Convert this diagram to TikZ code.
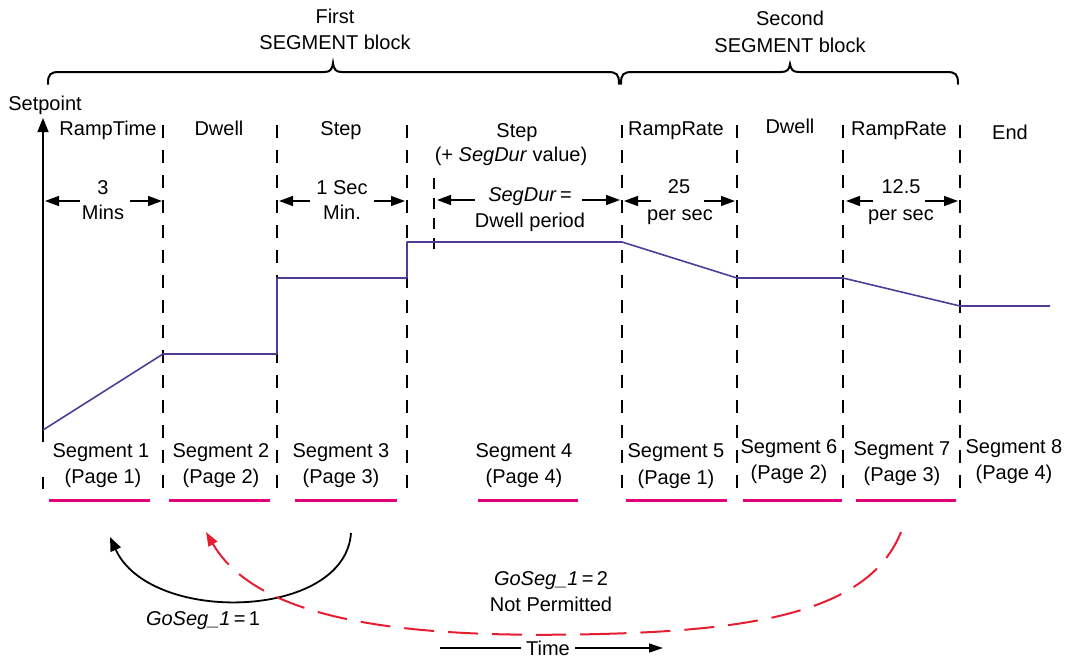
\documentclass[tikz,border=0pt]{standalone}
\usepackage{fontspec}
\setmainfont{Liberation Sans}
\usetikzlibrary{arrows.meta}
\definecolor{profc}{RGB}{80,60,150}
\definecolor{magc}{RGB}{226,0,122}
\definecolor{redc}{RGB}{230,30,50}
\begin{document}
\begin{tikzpicture}[x=1pt,y=-1pt,
  font=\fontsize{20}{24}\selectfont,
  lbl/.style={anchor=base, inner sep=0pt},
  vdash/.style={line width=2pt, dash pattern=on 13pt off 12pt},
  profline/.style={line width=1.6pt, profc, line join=round},
  dimarrow/.style={line width=1.5pt, -{Triangle[length=14pt,width=10pt]}},
  segline/.style={line width=3pt, magc},
  bracepath/.style={line width=2pt, line cap=round},
  tip/.style={-{Triangle[length=14pt,width=11pt]}}
]
\useasboundingbox (0,0) rectangle (1074,659);

% ---- braces ----
\draw[bracepath] (48,84) .. controls (48,74) and (50,72) .. (60,72) -- (324,72)
  .. controls (330,72) and (332,70) .. (333,63) .. controls (334,70) and (336,72) .. (342,72)
  -- (607,72) .. controls (617,72) and (619,74) .. (619,84);
\draw[bracepath] (621,84) .. controls (621,74) and (623,72) .. (633,72) -- (781,72)
  .. controls (787,72) and (789,70) .. (790,64) .. controls (791,70) and (793,72) .. (799,72)
  -- (946,72) .. controls (956,72) and (958,74) .. (958,84);
\node[lbl] (first) at (335,23) {First};
\node[lbl] (firstb) at (335,49) {SEGMENT block};
\node[lbl] (second) at (790,25) {Second};
\node[lbl] (secondb) at (790,52) {SEGMENT block};

% ---- axis ----
\node[lbl] (setpoint) at (45,110) {Setpoint};
\coordinate (ax0) at (43,442);
\coordinate (ax1) at (43,118);
\draw[line width=1.5pt, tip] (ax0) -- (ax1);
\draw[line width=2pt] (43,477) -- (43,489);

% ---- dashed separators ----
\foreach \xx in {163,277,407,622,737,843,960}
  \draw[vdash] (\xx,125) -- (\xx,490);
\draw[line width=2pt, dash pattern=on 11pt off 9pt] (434,178) -- (434,258);

% ---- setpoint profile ----
\draw[profline] (43,430) -- (163,354) -- (277,354) -- (277,278) -- (407,278)
  -- (407,242) -- (622,242) -- (737,278) -- (843,278) -- (960,306) -- (1050,306);

% ---- top labels ----
\node[lbl] (l1) at (108,135) {RampTime};
\node[lbl] (l2) at (219,135) {Dwell};
\node[lbl] (l3) at (341,135) {Step};
\node[lbl] (l4) at (517,137) {Step};
\node[lbl] (l4b) at (511,161) {(+ \textit{SegDur} value)};
\node[lbl] (l5) at (676,135) {RampRate};
\node[lbl] (l6) at (790,133) {Dwell};
\node[lbl] (l7) at (899,135) {RampRate};
\node[lbl] (l8) at (1010,139) {End};

% ---- dimension labels and arrows ----
\node[lbl] (d1a) at (103,194) {3};
\node[lbl] (d1b) at (103,219) {Mins};
\coordinate (d1l) at (80,201); \coordinate (d1lt) at (45,201);
\coordinate (d1r) at (130,201); \coordinate (d1rt) at (162,201);
\draw[dimarrow] (d1l) -- (d1lt);
\draw[dimarrow] (d1r) -- (d1rt);

\node[lbl] (d3a) at (342,194) {1 Sec};
\node[lbl] (d3b) at (342,219) {Min.};
\coordinate (d3l) at (310,201); \coordinate (d3lt) at (279,201);
\coordinate (d3r) at (374,201); \coordinate (d3rt) at (405,201);
\draw[dimarrow] (d3l) -- (d3lt);
\draw[dimarrow] (d3r) -- (d3rt);

\node[lbl] (d4a) at (530,201) {\textit{SegDur}\,=};
\node[lbl] (d4b) at (530,227) {Dwell period};
\coordinate (d4l) at (475,200); \coordinate (d4lt) at (437,200);
\coordinate (d4r) at (582,200); \coordinate (d4rt) at (620,200);
\draw[dimarrow] (d4l) -- (d4lt);
\draw[dimarrow] (d4r) -- (d4rt);

\node[lbl] (d5a) at (679,193) {25};
\node[lbl] (d5b) at (680,220) {per sec};
\coordinate (d5l) at (651,201); \coordinate (d5lt) at (624,201);
\coordinate (d5r) at (704,201); \coordinate (d5rt) at (735,201);
\draw[dimarrow] (d5l) -- (d5lt);
\draw[dimarrow] (d5r) -- (d5rt);

\node[lbl] (d7a) at (901,193) {12.5};
\node[lbl] (d7b) at (901,220) {per sec};
\coordinate (d7l) at (873,201); \coordinate (d7lt) at (846,201);
\coordinate (d7r) at (925,201); \coordinate (d7rt) at (958,201);
\draw[dimarrow] (d7l) -- (d7lt);
\draw[dimarrow] (d7r) -- (d7rt);

% ---- segment labels ----
\node[lbl] (s1) at (101,457) {Segment 1};
\node[lbl] (p1) at (103,483) {(Page 1)};
\node[lbl] (s2) at (221,457) {Segment 2};
\node[lbl] (p2) at (221,483) {(Page 2)};
\node[lbl] (s3) at (341,457) {Segment 3};
\node[lbl] (p3) at (341,483) {(Page 3)};
\node[lbl] (s4) at (524,457) {Segment 4};
\node[lbl] (p4) at (524,483) {(Page 4)};
\node[lbl] (s5) at (676,457) {Segment 5};
\node[lbl] (p5) at (676,484) {(Page 1)};
\node[lbl] (s6) at (789,453) {Segment 6};
\node[lbl] (p6) at (789,479) {(Page 2)};
\node[lbl] (s7) at (902,455) {Segment 7};
\node[lbl] (p7) at (902,481) {(Page 3)};
\node[lbl] (s8) at (1014,453) {Segment 8};
\node[lbl] (p8) at (1014,479) {(Page 4)};

% ---- magenta underlines ----
\draw[segline] (49,500) -- (150,500);
\draw[segline] (169,500) -- (270,500);
\draw[segline] (295,500) -- (397,500);
\draw[segline] (478,500) -- (578,500);
\draw[segline] (626,500) -- (727,500);
\draw[segline] (743,500) -- (842,500);
\draw[segline] (856,500) -- (956,500);

% ---- jump arrows ----
\coordinate (bs) at (351,533);
\coordinate (be) at (110,537);
\draw[line width=1.8pt, tip] (bs) .. controls (345,620) and (150,625) .. (be);
\node[lbl] (go1) at (203,625) {\textit{GoSeg\_1}\,=\,1};

\coordinate (rs) at (901,532);
\coordinate (rm) at (600,634);
\coordinate (re) at (206,532);
\draw[line width=2pt, redc, dash pattern=on 30pt off 14pt]
  (rs) .. controls (870,610) and (760,630) .. (rm);
\draw[line width=2pt, redc, dash pattern=on 30pt off 14pt, dash phase=10pt,
  -{Triangle[length=14pt,width=10pt]}]
  (rm) .. controls (420,638.5) and (260,625) .. (re);
\node[lbl] (go2) at (551,585) {\textit{GoSeg\_1}\,=\,2};
\node[lbl] (np) at (551,611) {Not Permitted};

% ---- time axis ----
\node[lbl] (time) at (548,655) {Time};
\coordinate (tl) at (440,648);
\coordinate (tr) at (663,648);
\draw[line width=1.3pt, shorten >=5pt] (tl) -- (time.west |- tl);
\draw[line width=1.3pt, shorten <=5pt, -{Triangle[length=14pt,width=9pt]}] (time.east |- tl) -- (tr);
\end{tikzpicture}
\end{document}
